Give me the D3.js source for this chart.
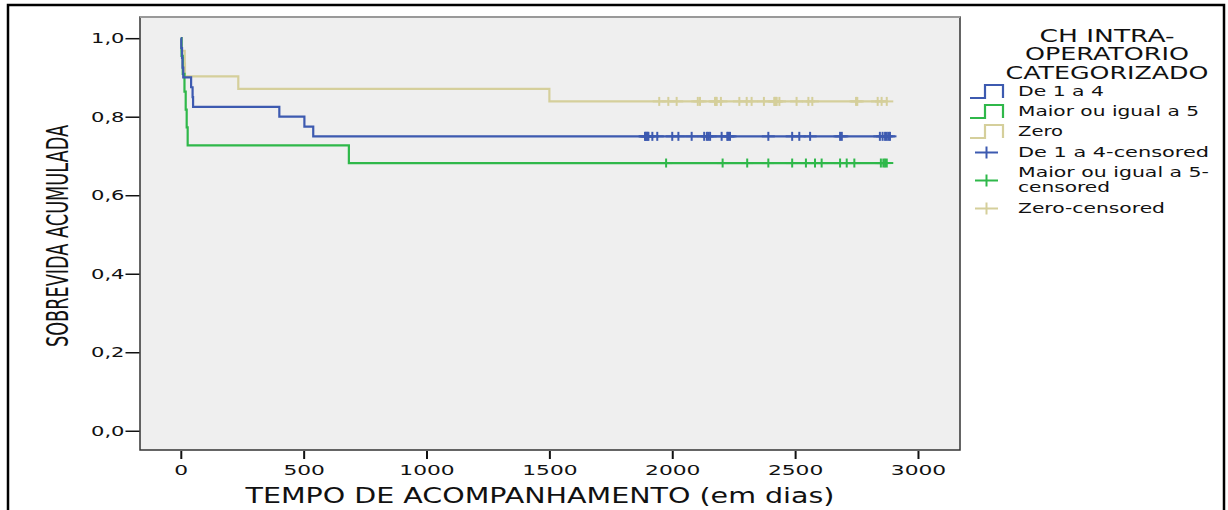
<!DOCTYPE html>
<html>
<head>
<meta charset="utf-8">
<script src="https://cdn.jsdelivr.net/npm/d3@7"></script>
<style>
  body { margin: 0; background: #fff; }
  svg text { font-family: "DejaVu Sans", sans-serif; fill: #111; }
</style>
</head>
<body>
<div class="viewport"></div>
<script>
// series names (legend order)
var groups = ["De 1 a 4", "Maior ou igual a 5", "Zero"];
var colors = ["#3d5ab0", "#2fb84a", "#d5cf9b"];

// Kaplan-Meier steps: event times (days) and survival after each event
var blueTimes = [2, 5, 7, 10, 42, 48, 50, 401, 503, 539];
var blueSurv = [0.975, 0.95, 0.925, 0.9, 0.875, 0.85, 0.825, 0.8, 0.775, 0.75];
var greenTimes = [3, 8, 15, 20, 24, 28, 684];
var greenSurv = [0.955, 0.909, 0.864, 0.818, 0.773, 0.727, 0.682];
var tanTimes = [4, 16, 17, 234, 1500];
var tanSurv = [0.968, 0.935, 0.903, 0.871, 0.839];

// censored observations (days)
var blueCensor = [1889, 1892, 1896, 1900, 1903, 1919, 1939, 2000, 2025, 2079, 2130, 2141, 2147, 2154,
    2201, 2224, 2228, 2235, 2391, 2488, 2517, 2561, 2683, 2690, 2845, 2856, 2866, 2873, 2880, 2886];
var greenCensor = [1975, 2205, 2305, 2391, 2488, 2544, 2581, 2608, 2683, 2710, 2741, 2849, 2859, 2866, 2873];
var tanCensor = [1947, 1984, 2018, 2104, 2113, 2174, 2178, 2181, 2198, 2273, 2303, 2323, 2373, 2415,
    2418, 2422, 2425, 2436, 2506, 2554, 2570, 2748, 2753, 2836, 2852, 2873];

var xTicks = [0, 500, 1000, 1500, 2000, 2500, 3000];
var yTicks = [0, 0.2, 0.4, 0.6, 0.8, 1.0];

var legendTitle = ["CH INTRA-", "OPERATORIO", "CATEGORIZADO"];
var legendLabels = ["De 1 a 4", "Maior ou igual a 5", "Zero", "De 1 a 4-censored",
    ["Maior ou igual a 5-", "censored"], "Zero-censored"];

function drawChart() {

    var series = [
        { times: blueTimes, surv: blueSurv, censor: blueCensor },
        { times: greenTimes, surv: greenSurv, censor: greenCensor },
        { times: tanTimes, surv: tanSurv, censor: tanCensor }
    ];

    function stretch(sel, k) {
        sel.each(function () {
            var w = this.getComputedTextLength();
            d3.select(this).attr("textLength", w * k).attr("lengthAdjust", "spacingAndGlyphs");
        });
    }

    function fit(sel, w) {
        sel.attr("textLength", w).attr("lengthAdjust", "spacingAndGlyphs");
    }

    var width = 1228, height = 510;
    var pLeft = 140, pRight = 960, pTop = 17, pBottom = 450;

    var svg = d3.select(".viewport").append("svg")
        .attr("width", width)
        .attr("height", height);

    // outer frame
    svg.append("rect")
        .attr("x", 8).attr("y", 5)
        .attr("width", 1216).attr("height", 540)
        .attr("fill", "none").attr("stroke", "#000").attr("stroke-width", 2.5);

    var x = d3.scaleLinear().domain([-166, 3171]).range([pLeft, pRight]);
    var y = d3.scaleLinear().domain([-0.049, 1.054]).range([pBottom, pTop]);

    // plot area
    svg.append("rect")
        .attr("x", pLeft).attr("y", pTop)
        .attr("width", pRight - pLeft).attr("height", pBottom - pTop)
        .attr("fill", "#efefef").attr("stroke", "#333").attr("stroke-width", 1.5);
    svg.append("line")
        .attr("x1", pLeft).attr("x2", pRight).attr("y1", pTop).attr("y2", pTop)
        .attr("stroke", "#999").attr("stroke-width", 2);

    // axes
    var fmt = function (d) { return d3.format(".1f")(d).replace(".", ","); };

    var yAxis = svg.append("g")
        .attr("transform", "translate(" + (pLeft - 0.5) + ",0)")
        .call(d3.axisLeft(y).tickValues(yTicks).tickSize(14).tickPadding(1).tickFormat(fmt));
    yAxis.select(".domain").remove();
    yAxis.selectAll("line").attr("stroke", "#111").attr("stroke-width", 1.5);
    yAxis.selectAll("text").style("font-size", "14.5px").attr("fill", "#111");
    stretch(yAxis.selectAll("text"), 1.45);

    var xAxis = svg.append("g")
        .attr("transform", "translate(0," + (pBottom + 1) + ")")
        .call(d3.axisBottom(x).tickValues(xTicks).tickSize(8).tickPadding(6).tickFormat(d3.format("d")));
    xAxis.select(".domain").remove();
    xAxis.selectAll("line").attr("stroke", "#111").attr("stroke-width", 2);
    xAxis.selectAll("text").style("font-size", "14.5px").attr("fill", "#111");
    stretch(xAxis.selectAll("text"), 1.5);

    // axis titles
    svg.append("text")
        .attr("x", 540).attr("y", 503)
        .attr("text-anchor", "middle")
        .style("font-size", "20.5px")
        .text("TEMPO DE ACOMPANHAMENTO (em dias)")
        .call(fit, 589);

    // y title: tall, narrow lettering
    var yTitle = svg.append("text")
        .attr("text-anchor", "middle")
        .style("font-size", "17.6px")
        .text("SOBREVIDA ACUMULADA");
    var natural = yTitle.node().getComputedTextLength();
    yTitle.attr("transform", "translate(68,236) rotate(-90) scale(" + (222 / natural) + ",1.75)");

    // survival curves
    var line = d3.line()
        .x(function (d) { return x(d[0]); })
        .y(function (d) { return y(d[1]); })
        .curve(d3.curveStepAfter);

    var plot = svg.append("g");

    // draw tan first, then green, then blue on top
    [2, 1, 0].forEach(function (i) {
        var s = series[i];
        var pts = [[0, 1]];
        s.times.forEach(function (t, j) { pts.push([t, s.surv[j]]); });
        var lastT = d3.max(s.censor);
        var finalS = s.surv[s.surv.length - 1];
        pts.push([lastT, finalS]);

        plot.append("path")
            .datum(pts)
            .attr("d", line)
            .attr("fill", "none")
            .attr("stroke", colors[i])
            .attr("stroke-width", 2.2);

        var marks = plot.append("g").selectAll("g")
            .data(s.censor)
            .enter().append("g")
            .attr("transform", function (d) { return "translate(" + x(d) + "," + y(finalS) + ")"; });
        marks.append("line")
            .attr("x1", -6.5).attr("x2", 6.5).attr("y1", 0).attr("y2", 0)
            .attr("stroke", colors[i]).attr("stroke-width", 2);
        marks.append("line")
            .attr("x1", 0).attr("x2", 0).attr("y1", -4.5).attr("y2", 4.5)
            .attr("stroke", colors[i]).attr("stroke-width", 2);
    });

    // legend
    var legend = svg.append("g");
    var titleW = [135, 164, 203];
    legend.selectAll("text.title")
        .data(legendTitle)
        .enter().append("text")
        .attr("class", "title")
        .attr("x", 1107)
        .attr("y", function (d, i) { return 41.5 + i * 18.7; })
        .attr("text-anchor", "middle")
        .style("font-size", "18px")
        .text(function (d) { return d; })
        .each(function (d, i) { d3.select(this).call(fit, titleW[i]); });

    var rowY = [96, 116, 136, 156.5, 176.5, 212.5];
    var labelW = [86, 181, 45, 191, [191, 92], 147];

    legendLabels.forEach(function (lab, i) {
        var by = rowY[i];
        var c = colors[i % 3];
        if (i < 3) {
            legend.append("path")
                .attr("d", "M970," + (by + 2) + "H985V" + (by - 11) + "H1003V" + (by + 2))
                .attr("fill", "none").attr("stroke", c).attr("stroke-width", 2.2);
        } else {
            var cy = (i === 4) ? by + 4 : by - 4;
            legend.append("line")
                .attr("x1", 975).attr("x2", 998).attr("y1", cy).attr("y2", cy)
                .attr("stroke", c).attr("stroke-width", 2);
            legend.append("line")
                .attr("x1", 986.5).attr("x2", 986.5).attr("y1", cy - 6).attr("y2", cy + 6)
                .attr("stroke", c).attr("stroke-width", 2);
        }
        var parts = Array.isArray(lab) ? lab : [lab];
        var ws = Array.isArray(lab) ? labelW[i] : [labelW[i]];
        parts.forEach(function (p, k) {
            legend.append("text")
                .attr("x", 1018).attr("y", by + k * 15)
                .style("font-size", "14.5px")
                .text(p)
                .call(fit, ws[k]);
        });
    });
}

drawChart();
</script>
</body>
</html>
